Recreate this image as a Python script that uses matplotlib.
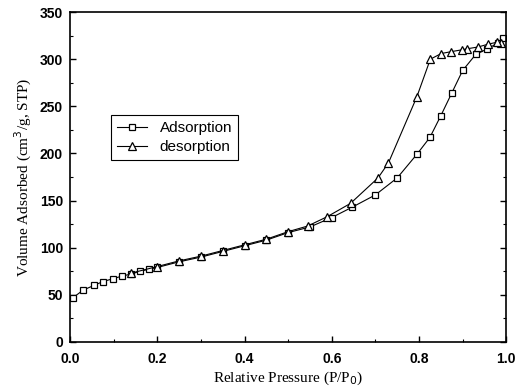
import matplotlib
matplotlib.use('Agg')
import matplotlib.pyplot as plt
from matplotlib.ticker import MultipleLocator

# adsorption branch
ads_x = [0.007, 0.03, 0.055, 0.075, 0.098, 0.12, 0.14, 0.16, 0.18, 0.2, 0.25, 0.3,
         0.35, 0.4, 0.45, 0.5, 0.55, 0.6, 0.647, 0.70, 0.75, 0.795, 0.825, 0.85,
         0.875, 0.9, 0.93, 0.957, 0.98, 0.993]
ads_y = [47, 55, 60, 64, 67, 70, 72, 75, 77, 79, 85, 90,
         96, 102, 108, 116, 122, 132, 143, 156, 174, 199, 217, 240,
         264, 288, 305, 311, 317, 322]

# desorption branch
des_x = [0.988, 0.979, 0.959, 0.936, 0.91, 0.899, 0.874, 0.851, 0.826, 0.795,
         0.73, 0.706, 0.643, 0.59, 0.545, 0.5, 0.45, 0.4, 0.35, 0.3, 0.25, 0.2, 0.14]
des_y = [317, 318, 316, 313, 311, 310, 308, 306, 300, 260,
         190, 174, 147, 133, 123, 117, 109, 103, 97, 91, 86, 80, 73]

fig = plt.figure(figsize=(5.15, 3.89), dpi=100)
ax = fig.add_axes([0.136, 0.121, 0.847, 0.848])

ax.plot(ads_x, ads_y, color='black', lw=0.8, marker='s', ms=5,
        mfc='white', mec='black', mew=0.9, label='Adsorption')
ax.plot(des_x, des_y, color='black', lw=0.8, marker='^', ms=6,
        mfc='white', mec='black', mew=0.9, label='desorption')

ax.set_xlim(0, 1.0)
ax.set_ylim(0, 350)
ax.xaxis.set_major_locator(MultipleLocator(0.2))
ax.xaxis.set_minor_locator(MultipleLocator(0.1))
ax.yaxis.set_major_locator(MultipleLocator(50))
ax.yaxis.set_minor_locator(MultipleLocator(25))
ax.tick_params(which='both', direction='in', right=True, top=False)
ax.tick_params(which='major', length=4, width=1)
ax.tick_params(which='minor', length=2.5, width=0.8)
ax.tick_params(axis='x', pad=7)
ax.tick_params(axis='y', pad=5)
for lbl in ax.get_xticklabels() + ax.get_yticklabels():
    lbl.set_fontfamily('Liberation Sans')
    lbl.set_fontweight('bold')
    lbl.set_fontsize(10)
ax.xaxis.set_major_formatter(plt.FuncFormatter(lambda v, p: '%.1f' % v))
for sp in ax.spines.values():
    sp.set_linewidth(1.2)

ax.set_xlabel('Relative Pressure (P/P$_0$)', fontfamily='Liberation Serif', fontsize=11,
              labelpad=3)
ax.set_ylabel('Volume Adsorbed (cm$^3$/g, STP)', fontfamily='Liberation Serif', fontsize=11)

leg = ax.legend(loc='upper left', bbox_to_anchor=(0.076, 0.71), fancybox=False,
                edgecolor='black', framealpha=1, handlelength=2.0,
                borderpad=0.4, labelspacing=0.3, prop={'family': 'Liberation Sans', 'size': 11})
leg.get_frame().set_linewidth(0.8)

fig.savefig('out.png', dpi=100)
